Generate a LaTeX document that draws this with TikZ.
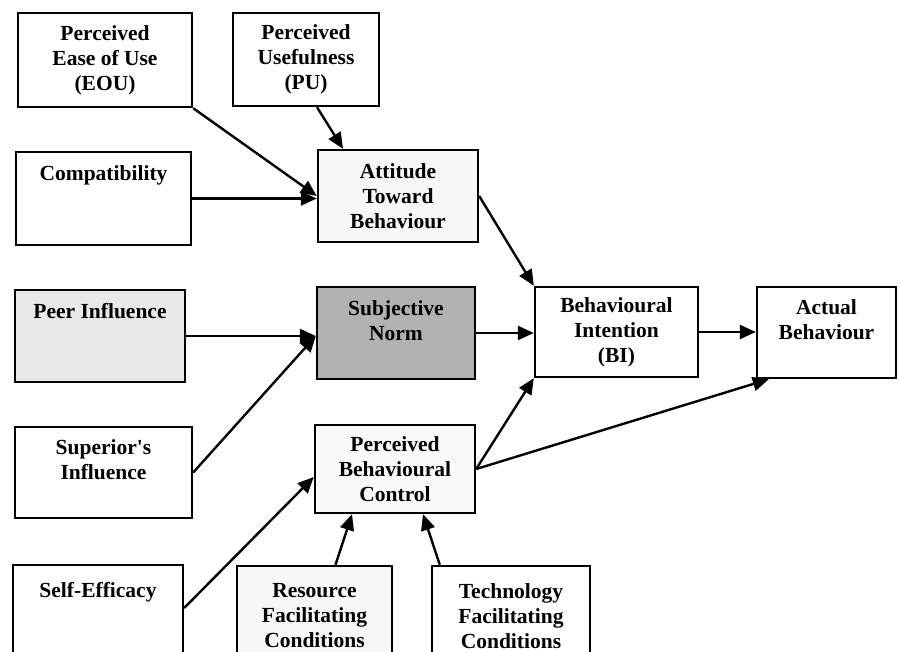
\documentclass[tikz,border=0pt]{standalone}
\usepackage{fontspec}
\setmainfont{Liberation Serif}
\usetikzlibrary{arrows.meta}
\begin{document}
\begin{tikzpicture}[x=1pt,y=1pt,
  box/.style={draw=black, line width=2.4pt, align=center, inner sep=0pt,
    font=\fontsize{21.5}{25}\selectfont\bfseries},
  link/.style={line width=2.4pt, -{Triangle[length=16pt,width=14pt]}}]
\useasboundingbox (0,0) rectangle (900,652);
\fill[white] (0,0) rectangle (900,652);
\begin{scope}
\clip (0,0) rectangle (900,652);
% first column: external factors
\node[box, minimum width=174, minimum height=94] (eou) at (105,592) {Perceived\\Ease of Use\\(EOU)};
\node[box, minimum width=146, minimum height=93] (pu) at (306,592.5) {Perceived\\Usefulness\\(PU)};
\node[box, minimum width=175, minimum height=93] (compat) at (103.5,453.5) {Compatibility\\~\\~};
\node[box, fill=gray!18, minimum width=170, minimum height=92] (peer) at (100,316) {Peer Influence\\~\\~};
\node[box, minimum width=177, minimum height=91] (sup) at (103.5,179.5) {Superior\textquotesingle s\\Influence\\~};
\node[box, minimum width=170, minimum height=100] (self) at (98,37) {Self-Efficacy\\~\\~};
\node[box, fill=gray!6, minimum width=155, minimum height=100] (res) at (314.5,36) {Resource\\Facilitating\\Conditions};
\node[box, minimum width=158, minimum height=100] (tech) at (511,36) {Technology\\Facilitating\\Conditions};
% TPB constructs
\node[box, fill=gray!6, minimum width=160, minimum height=92] (att) at (398,456) {Attitude\\Toward\\Behaviour};
\node[box, fill=gray!60, minimum width=158, minimum height=92] (sn) at (396,319) {Subjective\\Norm\\~};
\node[box, fill=gray!5, minimum width=160, minimum height=88] (pbc) at (395,183) {Perceived\\Behavioural\\Control};
\node[box, minimum width=163, minimum height=90] (bi) at (616.5,320) {Behavioural\\Intention\\(BI)};
\node[box, minimum width=139, minimum height=91] (ab) at (826.5,319.5) {Actual\\Behaviour\\~};
\end{scope}
% connectors
\coordinate (snin) at (peer.east -| sn.west);
\draw[link] (eou.south east) -- (att.west);
\draw[link] ([xshift=11]pu.south) -- ([xshift=-55]att.north);
\draw[link] (compat.east) -- (compat.east -| att.west);
\draw[link] (att.east) -- (bi.north west);
\draw[link] (peer.east) -- (snin);
\draw[link] (sup.east) -- (snin);
\draw[link] (sn.east) -- (sn.east -| bi.west);
\draw[link] (bi.east) -- (bi.east -| ab.west);
\draw[link] ([yshift=7]self.east) -- ([yshift=-8]pbc.west);
\draw[link] ([xshift=21]res.north) -- ([xshift=-43]pbc.south);
\draw[link] ([xshift=9]tech.north west) -- ([xshift=28]pbc.south);
\draw[link] (pbc.east) -- (bi.south west);
\draw[link] (pbc.east) -- ([xshift=13]ab.south west);
\end{tikzpicture}
\end{document}
